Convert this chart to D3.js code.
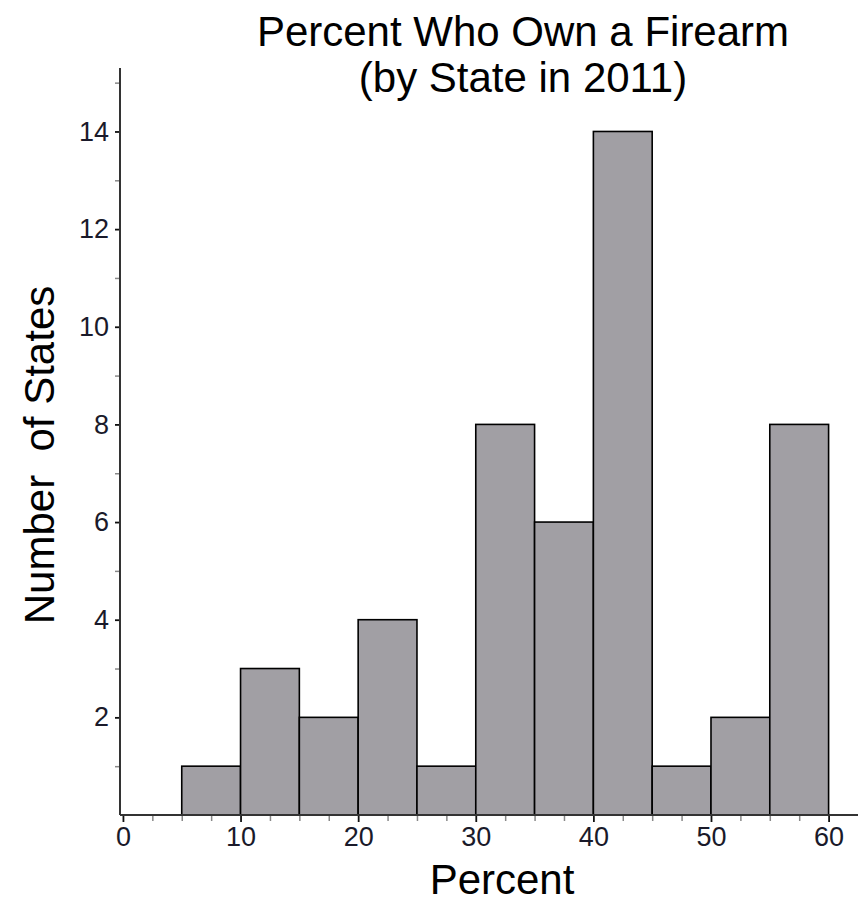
<!DOCTYPE html>
<html>
<head>
<meta charset="utf-8">
<script src="https://cdn.jsdelivr.net/npm/d3@7"></script>
<style>
  html, body { margin: 0; padding: 0; background: #fff; }
  svg { display: block; }
  text { font-family: "Liberation Sans", Arial, sans-serif; }
</style>
</head>
<body>
<svg id="chart" width="859" height="918"></svg>
<script>
// Data
const binStarts = [5, 10, 15, 20, 25, 30, 35, 40, 45, 50, 55];
const binWidth = 5;
const counts = [1, 3, 2, 4, 1, 8, 6, 14, 1, 2, 8];
const xMajorTicks = [0, 10, 20, 30, 40, 50, 60];
const xMinorTicks = [2.5, 5, 7.5, 12.5, 15, 17.5, 22.5, 25, 27.5, 32.5, 35, 37.5, 42.5, 45, 47.5, 52.5, 55, 57.5];
const yMajorTicks = [2, 4, 6, 8, 10, 12, 14];
const yMinorTicks = [1, 3, 5, 7, 9, 11, 13, 15];
const titleLines = ["Percent Who Own a Firearm", "(by State in 2011)"];
const xLabel = "Percent";
const yLabel = "Number  of States";

const svg = d3.select("#chart");

const x = d3.scaleLinear().domain([-0.25, 62.5]).range([120, 858]);
const y = d3.scaleLinear().domain([0, 15.3]).range([815, 68]);

// Bars
svg.append("g").selectAll("rect")
  .data(binStarts.map((s, i) => ({ s, c: counts[i] })))
  .join("rect")
  .attr("x", d => x(d.s))
  .attr("y", d => y(d.c))
  .attr("width", d => x(d.s + binWidth) - x(d.s))
  .attr("height", d => y(0) - y(d.c))
  .attr("fill", "#a19fa4")
  .attr("stroke", "#000")
  .attr("stroke-width", 1.6);

// X minor ticks
const xMinorAxis = d3.axisBottom(x).tickValues(xMinorTicks).tickSize(6).tickFormat("");
const gxm = svg.append("g").attr("transform", `translate(0,${y(0)})`).call(xMinorAxis);
gxm.select(".domain").remove();
gxm.selectAll(".tick line").attr("stroke", "#888").attr("stroke-width", 1.5);

// X major axis
const xAxis = d3.axisBottom(x).tickValues(xMajorTicks).tickSize(7).tickPadding(5).tickFormat(d3.format("d"));
const gx = svg.append("g").attr("transform", `translate(0,${y(0)})`).call(xAxis);
gx.select(".domain").remove();
gx.selectAll(".tick line").attr("stroke", "#111").attr("stroke-width", 1.8);
gx.selectAll(".tick text").attr("font-size", 27).attr("fill", "#1a1a2a")
  .attr("font-family", "Liberation Sans, Arial, sans-serif");

// Y minor ticks
const yMinorAxis = d3.axisLeft(y).tickValues(yMinorTicks).tickSize(5).tickFormat("");
const gym = svg.append("g").attr("transform", `translate(${x.range()[0]},0)`).call(yMinorAxis);
gym.select(".domain").remove();
gym.selectAll(".tick line").attr("stroke", "#888").attr("stroke-width", 1.5);

// Y major axis
const yAxis = d3.axisLeft(y).tickValues(yMajorTicks).tickSize(5).tickPadding(6).tickFormat(d3.format("d"));
const gy = svg.append("g").attr("transform", `translate(${x.range()[0]},0)`).call(yAxis);
gy.select(".domain").remove();
gy.selectAll(".tick line").attr("stroke", "#111").attr("stroke-width", 1.8);
gy.selectAll(".tick text").attr("font-size", 27).attr("fill", "#1a1a2a")
  .attr("font-family", "Liberation Sans, Arial, sans-serif");

// Axis lines
svg.append("line")
  .attr("x1", x.range()[0]).attr("x2", x.range()[1])
  .attr("y1", y(0)).attr("y2", y(0))
  .attr("stroke", "#333").attr("stroke-width", 2);
svg.append("line")
  .attr("x1", x.range()[0]).attr("x2", x.range()[0])
  .attr("y1", y.range()[0]).attr("y2", y.range()[1])
  .attr("stroke", "#333").attr("stroke-width", 2);

// Title
svg.append("g").selectAll("text")
  .data(titleLines)
  .join("text")
  .attr("x", 523)
  .attr("y", (d, i) => 46 + i * 46)
  .attr("text-anchor", "middle")
  .attr("font-size", 42)
  .attr("fill", "#000")
  .style("white-space", "pre")
  .text(d => d);

// X label
svg.append("text")
  .attr("x", 502)
  .attr("y", 894)
  .attr("text-anchor", "middle")
  .attr("font-size", 42)
  .attr("fill", "#000")
  .text(xLabel);

// Y label
svg.append("text")
  .attr("transform", "translate(54,455) rotate(-90)")
  .attr("text-anchor", "middle")
  .attr("font-size", 42)
  .attr("fill", "#000")
  .style("white-space", "pre")
  .text(yLabel);
</script>
</body>
</html>
